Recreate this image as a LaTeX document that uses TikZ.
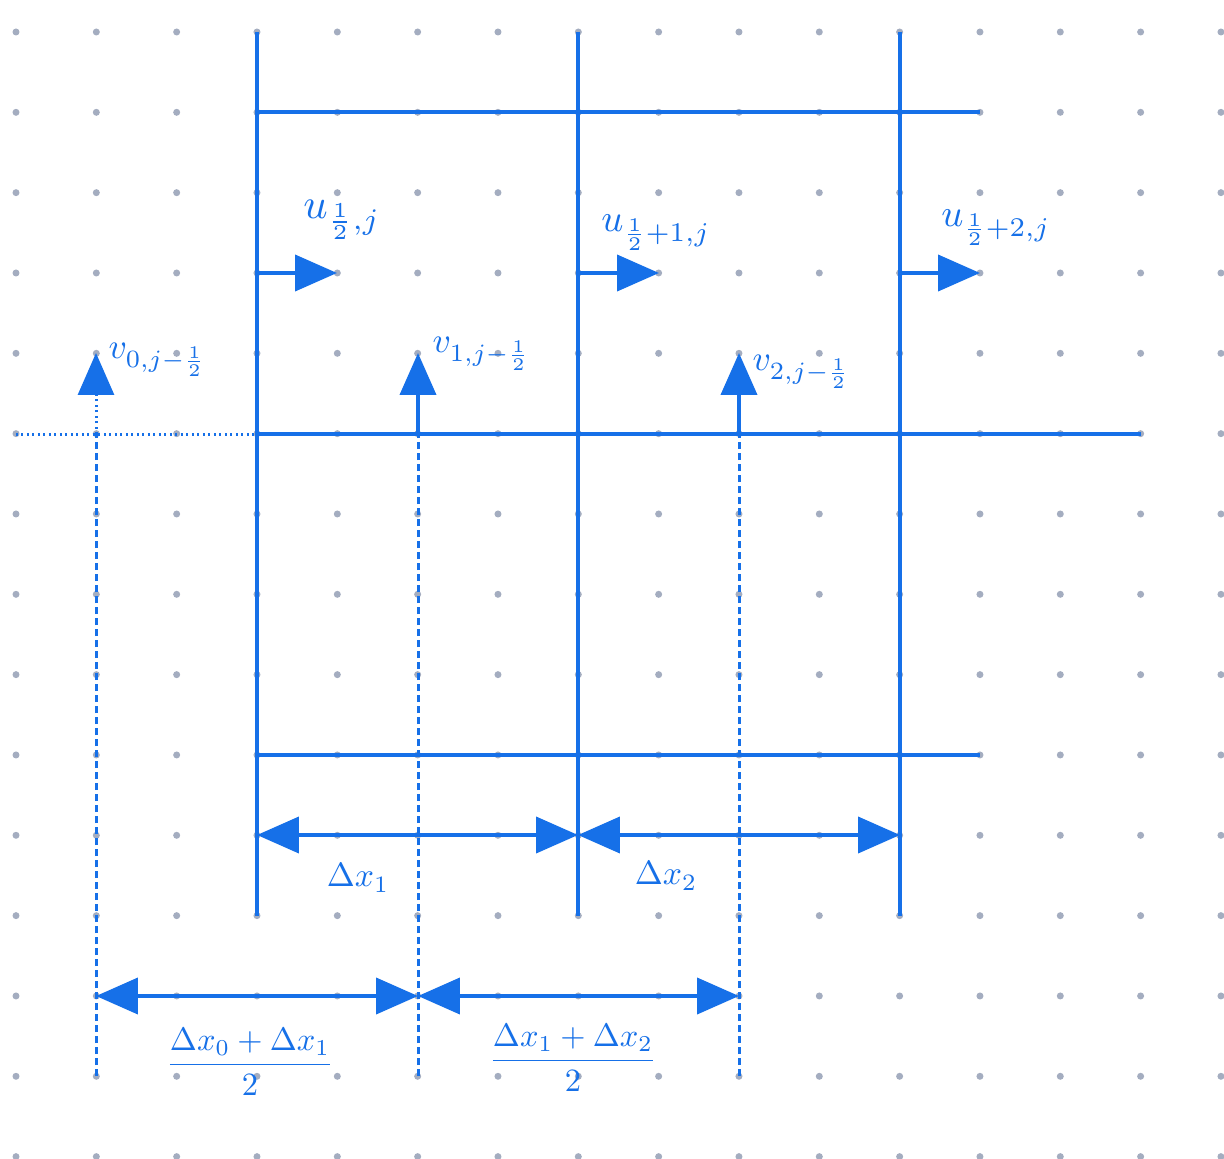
\documentclass[tikz,border=0pt]{standalone}
\usepackage{amsmath}
\usetikzlibrary{arrows.meta}
\definecolor{ink}{RGB}{22,112,232}
\definecolor{dotc}{RGB}{164,173,192}
\begin{document}
\begin{tikzpicture}[x=0.02cm,y=-0.02cm,
  gridline/.style={ink,line width=0.08cm},
  guide/.style={ink,line width=0.06cm,dash pattern=on 0.14cm off 0.08cm},
  dotline/.style={ink,line width=0.06cm,dash pattern=on 0.04cm off 0.07cm},
  tipped/.style={ink,line width=0.08cm,-{Triangle[length=0.84cm,width=0.72cm]}},
  dimarrow/.style={ink,line width=0.08cm,{Triangle[length=0.84cm,width=0.72cm]}-{Triangle[length=0.84cm,width=0.72cm]}},
  lab/.style={ink,scale=2.2,inner sep=0pt}]
\useasboundingbox (0,0) rectangle (1224,1159);
\fill[white] (0,0) rectangle (1224,1159);
% dot grid
\foreach \i in {0,...,15}
  \foreach \j in {0,...,14}
    \fill[dotc] ({16+80.33*\i},{32+80.33*\j}) circle (0.07cm);
% coordinates
\coordinate (A1) at (257,32);  \coordinate (A2) at (257,916);
\coordinate (B1) at (578,32);  \coordinate (B2) at (578,916);
\coordinate (C1) at (900,32);  \coordinate (C2) at (900,916);
\coordinate (H1a) at (257,112); \coordinate (H1b) at (980,112);
\coordinate (H2a) at (257,434); \coordinate (H2b) at (1141,434);
\coordinate (H2o) at (16,434);
\coordinate (H3a) at (257,755); \coordinate (H3b) at (980,755);
% grid lines
\draw[gridline] (A1) -- (A2);
\draw[gridline] (B1) -- (B2);
\draw[gridline] (C1) -- (C2);
\draw[gridline] (H1a) -- (H1b);
\draw[gridline] (H2a) -- (H2b);
\draw[gridline] (H3a) -- (H3b);
\draw[dotline] (H2o) -- (H2a);
% u arrows
\coordinate (u1s) at (257,273); \coordinate (u1e) at (337,273);
\coordinate (u2s) at (578,273); \coordinate (u2e) at (659,273);
\coordinate (u3s) at (900,273); \coordinate (u3e) at (980,273);
\draw[tipped] (u1s) -- (u1e);
\draw[tipped] (u2s) -- (u2e);
\draw[tipped] (u3s) -- (u3e);
% v arrows
\coordinate (v0b) at (96,1076); \coordinate (v0m) at (96,434); \coordinate (v0t) at (96,353);
\coordinate (v1b) at (418,1076); \coordinate (v1m) at (418,434); \coordinate (v1t) at (418,353);
\coordinate (v2b) at (739,1076); \coordinate (v2m) at (739,434); \coordinate (v2t) at (739,353);
\draw[guide] (v0b) -- (v0m);
\draw[dotline,-{Triangle[length=0.84cm,width=0.72cm]}] (v0m) -- (v0t);
\draw[guide] (v1b) -- (v1m);
\draw[tipped] (v1m) -- (v1t);
\draw[guide] (v2b) -- (v2m);
\draw[tipped] (v2m) -- (v2t);
% dimension arrows
\coordinate (da) at (257,835); \coordinate (db) at (578,835); \coordinate (dc) at (900,835);
\draw[dimarrow] (da) -- (db);
\draw[dimarrow] (db) -- (dc);
\coordinate (ea) at (96,996); \coordinate (eb) at (418,996); \coordinate (ec) at (739,996);
\draw[dimarrow] (ea) -- (eb);
\draw[dimarrow] (eb) -- (ec);
% labels
\node[lab,scale=1.1] (lu1) at (342,220) {$u_{\frac12,j}$};
\node[lab] (lu2) at (656,233) {$u_{\frac12+1,j}$};
\node[lab] (lu3) at (996,228) {$u_{\frac12+2,j}$};
\node[lab,scale=0.92,anchor=west] (lv0) at (108,360) {$v_{0,j-\frac12}$};
\node[lab,scale=0.92,anchor=west] (lv1) at (432,354) {$v_{1,j-\frac12}$};
\node[lab,scale=0.92,anchor=west] (lv2) at (752,372) {$v_{2,j-\frac12}$};
\node[lab,scale=0.87] (ld1) at (358,878) {$\Delta x_1$};
\node[lab,scale=0.87] (ld2) at (666,876) {$\Delta x_2$};
\node[lab,scale=0.84] (ls1) at (250,1062) {$\dfrac{\Delta x_0+\Delta x_1}{2}$};
\node[lab,scale=0.84] (ls2) at (573,1058) {$\dfrac{\Delta x_1+\Delta x_2}{2}$};
\end{tikzpicture}
\end{document}
